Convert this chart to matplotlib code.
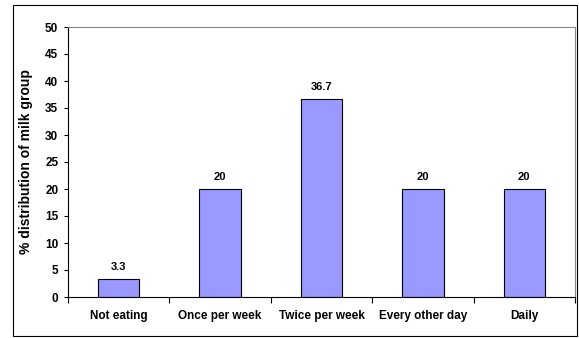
import matplotlib.pyplot as plt
from matplotlib.patches import Rectangle
import numpy as np

plt.rcParams['font.family'] = ['Liberation Sans', 'DejaVu Sans']
plt.rcParams['font.weight'] = 'bold'

categories = ['Not eating', 'Once per week', 'Twice per week', 'Every other day', 'Daily']
values = [3.3, 20, 36.7, 20, 20]
labels = ['3.3', '20', '36.7', '20', '20']

fig = plt.figure(figsize=(5.79, 3.38), dpi=100)
ax = fig.add_axes([68/579, 41/338, 507/579, 270/338])

x = np.arange(len(categories))
ax.bar(x, values, width=0.41, color='#9999FF', edgecolor='black', linewidth=0.8, zorder=2)
for xi, v, s in zip(x, values, labels):
    ax.annotate(s, (xi, v), xytext=(0, 5), textcoords='offset points',
                ha='center', va='bottom', fontsize=8, fontweight='bold')

ax.set_xlim(-0.5, len(categories) - 0.5)
ax.set_ylim(0, 50)
ax.set_yticks(np.arange(0, 51, 5))
ax.set_yticklabels([str(t) for t in range(0, 51, 5)], fontsize=8.5, fontweight='bold')
ax.tick_params(axis='y', length=3, width=0.8, pad=4)
ax.set_xticks(x)
ax.set_xticklabels(categories, fontsize=8.5, fontweight='bold')
ax.tick_params(axis='x', length=0, pad=9)
ax.set_xticks(np.arange(-0.5, len(categories), 1), minor=True)
ax.tick_params(axis='x', which='minor', length=4, width=0.8, direction='out')
ax.set_ylabel('% distribution of milk group', fontsize=10, fontweight='bold', labelpad=9)

for s in ['top', 'right']:
    ax.spines[s].set_color('#888888')
    ax.spines[s].set_linewidth(0.8)
for s in ['left', 'bottom']:
    ax.spines[s].set_color('black')
    ax.spines[s].set_linewidth(0.8)

fig.patches.append(Rectangle((13/579, 2/338), 564/579, 331/338, transform=fig.transFigure,
                             fill=False, edgecolor='black', linewidth=0.8))

fig.savefig('out.png', dpi=100)
